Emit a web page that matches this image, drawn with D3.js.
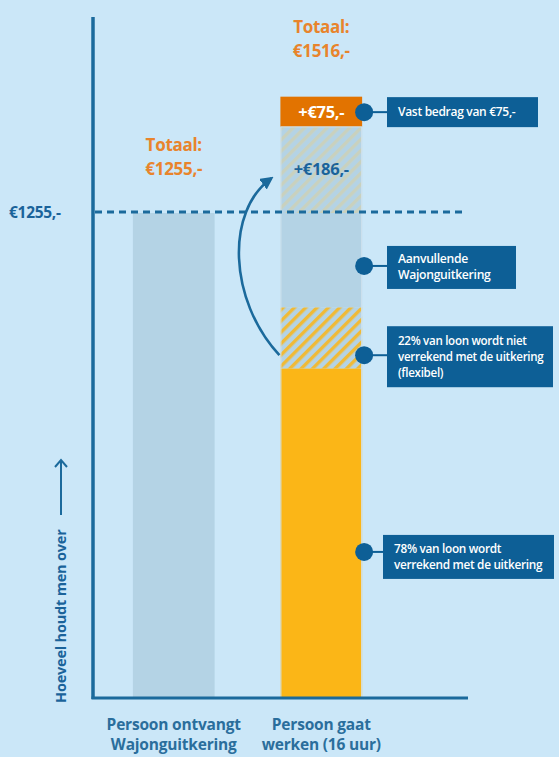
<!DOCTYPE html>
<html>
<head>
<meta charset="utf-8">
<script src="https://cdn.jsdelivr.net/npm/d3@7"></script>
<style>
  html, body { margin: 0; padding: 0; background: #cbe7f8; }
  svg { display: block; font-family: "Open Sans", Lato, sans-serif; }
</style>
</head>
<body>
<svg id="chart" width="559" height="757"></svg>
<script>
// ---- data ----
const categories = ["Persoon ontvangt\nWajonguitkering", "Persoon gaat\nwerken (16 uur)"];
const bar1Value = 1255;
const segmentNames = ["78% loon", "22% loon", "Aanvullende", "Extra", "Vast"];
const segmentValues = [853, 158, 244, 223, 78];
const segmentLabels = ["", "", "", "+€186,-", "+€75,-"];
const totals = [1255, 1516];
const totalLabels = ["€1255,-", "€1516,-"];
const referenceValue = 1255;
const referenceLabel = "€1255,-";
const legendTexts = [
  ["Vast bedrag van €75,-"],
  ["Aanvullende", "Wajonguitkering"],
  ["22% van loon wordt niet", "verrekend met de uitkering", "(flexibel)"],
  ["78% van loon wordt", "verrekend met de uitkering"]
];
const legendAnchorValues = [1516, 1118, 887, 378];
const arrowValues = [887, 1345];
const yAxisLabel = "Hoeveel houdt men over";

// ---- styles ----
const C = {
  axis: "#1b6a9c", box: "#0d5f96", barBlue: "#b4d3e5", yellow: "#fbb617",
  orange: "#e27300", orangeText: "#e8842c", darkText: "#1a639a", catText: "#2a6e9c"
};

const svg = d3.select("#chart");
const defs = svg.append("defs");

function hatch(id, color, opacity) {
  const p = defs.append("pattern").attr("id", id).attr("patternUnits", "userSpaceOnUse")
    .attr("width", 8).attr("height", 8).attr("patternTransform", "rotate(45)");
  p.append("rect").attr("width", 8).attr("height", 8).attr("fill", C.barBlue);
  p.append("rect").attr("x", 0).attr("width", 3.4).attr("height", 8).attr("fill", color).attr("opacity", opacity);
}
hatch("hatchStrong", C.yellow, 0.85);
hatch("hatchFaint", "#e3cf8e", 0.45);

defs.append("marker").attr("id", "arrowHead").attr("viewBox", "0 0 10 10")
  .attr("refX", 8).attr("refY", 5).attr("markerWidth", 5).attr("markerHeight", 5)
  .attr("orient", "auto").attr("markerUnits", "strokeWidth")
  .append("path").attr("d", "M0,0 L10,5 L0,10 Z").attr("fill", C.axis);

const x = d3.scaleBand().domain(categories).range([92, 403]).paddingInner(0.446).paddingOuter(0.277);
const y = d3.scaleLinear().domain([0, 1255]).range([698, 213]);

const segFills = [C.yellow, "url(#hatchStrong)", C.barBlue, "url(#hatchFaint)", C.orange];

// bar 1
svg.append("rect").attr("x", x(categories[0])).attr("width", x.bandwidth())
  .attr("y", y(bar1Value)).attr("height", y(0) - y(bar1Value)).attr("fill", C.barBlue);

// bar 2 stacked
let cum = 0;
const stacks = segmentValues.map((v, i) => { const s = { i, y0: cum, y1: cum + v }; cum += v; return s; });
const bx = x(categories[1]);
svg.selectAll("rect.seg").data(stacks).join("rect").attr("class", "seg")
  .attr("x", bx).attr("width", x.bandwidth())
  .attr("y", d => y(d.y1)).attr("height", d => y(d.y0) - y(d.y1))
  .attr("fill", d => segFills[d.i]);
svg.append("rect").attr("x", bx + 0.5).attr("width", x.bandwidth() - 1)
  .attr("y", y(stacks[3].y1)).attr("height", y(0) - y(stacks[3].y1))
  .attr("fill", "none").attr("stroke", "#cfe3ee").attr("stroke-width", 1);

// segment labels
svg.selectAll("text.seglab").data(stacks.filter(d => segmentLabels[d.i])).join("text")
  .attr("class", "seglab")
  .attr("x", bx + x.bandwidth() / 2)
  .attr("y", d => d.i === 4 ? (y(d.y0) + y(d.y1)) / 2 + 6 : y(d.y1) + 48)
  .attr("text-anchor", "middle").attr("font-weight", 700).attr("font-size", 16.5)
  .attr("letter-spacing", -0.3)
  .attr("fill", d => d.i === 4 ? "#ffffff" : C.darkText)
  .text(d => segmentLabels[d.i]);

// reference dashed line
svg.append("line").attr("x1", 95).attr("x2", 464)
  .attr("y1", y(referenceValue) - 1).attr("y2", y(referenceValue) - 1)
  .attr("stroke", C.axis).attr("stroke-width", 3).attr("stroke-dasharray", "7,5");
svg.append("text").attr("x", 9).attr("y", y(referenceValue) + 5)
  .attr("font-weight", 700).attr("font-size", 15.5).attr("letter-spacing", -0.3)
  .attr("fill", C.darkText).text(referenceLabel);

// axes
svg.append("line").attr("x1", 93).attr("x2", 93).attr("y1", 17).attr("y2", 699)
  .attr("stroke", C.axis).attr("stroke-width", 3.5);
svg.append("line").attr("x1", 91.5).attr("x2", 468).attr("y1", 698).attr("y2", 698)
  .attr("stroke", C.axis).attr("stroke-width", 3);

// totals
const totalTops = [y(totals[0]) - 62, y(stacks[4].y1) - 64];
categories.forEach((c, i) => {
  const cx = x(c) + x.bandwidth() / 2;
  const t = svg.append("text").attr("text-anchor", "middle").attr("font-weight", 700)
    .attr("font-size", 17).attr("letter-spacing", -0.3).attr("fill", C.orangeText);
  t.append("tspan").attr("x", cx).attr("y", totalTops[i]).text("Totaal:");
  t.append("tspan").attr("x", cx).attr("y", totalTops[i] + 24).text(totalLabels[i]);
});

// category labels
categories.forEach(c => {
  const cx = x(c) + x.bandwidth() / 2;
  const t = svg.append("text").attr("text-anchor", "middle").attr("font-weight", 700)
    .attr("font-size", 15.5).attr("letter-spacing", -0.2).attr("fill", C.catText);
  c.split("\n").forEach((ln, k) => t.append("tspan").attr("x", cx).attr("y", 730 + k * 20).text(ln));
});

// legend boxes
const boxDims = [
  { x: 387, w: 151, h: 30, off: 15, fs: 12 },
  { x: 387, w: 129, h: 43, off: 20, fs: 12.2 },
  { x: 387, w: 166, h: 61, off: 29, fs: 11.6 },
  { x: 383, w: 171, h: 44, off: 17, fs: 11.8 }
];
const dotX = bx + x.bandwidth() + 2;
legendTexts.forEach((lines, i) => {
  const cy = y(legendAnchorValues[i]);
  const b = boxDims[i];
  const top = cy - b.off;
  svg.append("line").attr("x1", dotX).attr("x2", b.x).attr("y1", cy).attr("y2", cy)
    .attr("stroke", C.box).attr("stroke-width", 2);
  svg.append("circle").attr("cx", dotX).attr("cy", cy).attr("r", 9).attr("fill", C.box);
  svg.append("rect").attr("x", b.x).attr("y", top).attr("width", b.w).attr("height", b.h).attr("fill", C.box);
  const lh = 16;
  const t = svg.append("text").attr("font-weight", 600).attr("font-size", b.fs)
    .attr("letter-spacing", -0.3).attr("fill", "#ffffff");
  const startY = top + b.h / 2 - (lines.length - 1) * lh / 2 + 4;
  lines.forEach((ln, k) => t.append("tspan").attr("x", b.x + 11).attr("y", startY + k * lh).text(ln));
});

// curved arrow
svg.append("path")
  .attr("d", `M${bx - 1},${y(arrowValues[0])} C ${bx - 52},${y(1030)} ${bx - 55},${y(1260)} ${bx - 9},${y(arrowValues[1])}`)
  .attr("fill", "none").attr("stroke", C.axis).attr("stroke-width", 2.6)
  .attr("marker-end", "url(#arrowHead)");

// y axis label with arrow
svg.append("text").attr("transform", "translate(66,703) rotate(-90)")
  .attr("font-weight", 700).attr("font-size", 14.5).attr("letter-spacing", -0.2)
  .attr("fill", C.darkText).text(yAxisLabel);
svg.append("line").attr("x1", 61).attr("x2", 61).attr("y1", 515).attr("y2", 461)
  .attr("stroke", C.axis).attr("stroke-width", 2);
svg.append("path").attr("d", "M55,467 L61,460 L67,467").attr("fill", "none")
  .attr("stroke", C.axis).attr("stroke-width", 2);
</script>
</body>
</html>
